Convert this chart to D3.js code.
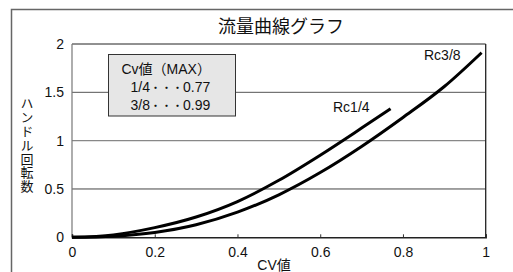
<!DOCTYPE html>
<html><head><meta charset="utf-8">
<script src="https://cdn.jsdelivr.net/npm/d3@7"></script>
<style>
html,body{margin:0;padding:0;background:#fff;}
svg{display:block;}
text{font-family:"Liberation Sans",Arial,"Noto Sans CJK JP",sans-serif;fill:#111;}
</style></head>
<body>
<script>
const title = "流量曲線グラフ";
const xLabel = "CV値";
const yLabel = "ハンドル回転数";
const xTicks = [0, 0.2, 0.4, 0.6, 0.8, 1];
const yTicks = [0, 0.5, 1, 1.5, 2];
const legendTitle = "Cv値（MAX）";
const legendSizes = ["1/4", "3/8"];
const legendMax = ["0.77", "0.99"];
const legendDots = "・・・";
const seriesNames = ["Rc1/4", "Rc3/8"];
const rc14X = [0, 0.1, 0.2, 0.3, 0.4, 0.5, 0.6, 0.7, 0.77];
const rc14Y = [0, 0.025, 0.10, 0.21, 0.37, 0.59, 0.85, 1.13, 1.33];
const rc38X = [0, 0.1, 0.2, 0.3, 0.4, 0.5, 0.6, 0.7, 0.8, 0.9, 0.99];
const rc38Y = [0, 0.012, 0.05, 0.13, 0.26, 0.44, 0.67, 0.94, 1.24, 1.56, 1.91];

const W = 513, H = 272;
const L = 72, R = 485.7, T = 44, B = 237.3;
const svg = d3.select("body").append("svg").attr("width", W).attr("height", H);

const x = d3.scaleLinear().domain([0, 1]).range([L, R]);
const y = d3.scaleLinear().domain([0, 2]).range([B, T]);

// outer frame
svg.append("path").attr("d", `M11.5,${H} V9.5 H${W}`).attr("fill", "none")
  .attr("stroke", "#666").attr("stroke-width", 1.5);

// title
svg.append("text").attr("x", 281).attr("y", 32.5).attr("text-anchor", "middle")
  .attr("font-size", 18).style("font-family", "'Noto Sans CJK JP',sans-serif").text(title);

// gridlines
const gridColor = {0.5: "#444", 1: "#888", 1.5: "#555"};
svg.append("g").selectAll("line").data(yTicks.filter(d => d > 0 && d < 2)).join("line")
  .attr("x1", L).attr("x2", R).attr("y1", d => y(d)).attr("y2", d => y(d))
  .attr("stroke", d => gridColor[d]).attr("stroke-width", d => d === 1 ? 1.4 : 1);

// plot frame
svg.append("line").attr("x1", L).attr("x2", R).attr("y1", T).attr("y2", T).attr("stroke", "#222").attr("stroke-width", 1);
svg.append("line").attr("x1", R).attr("x2", R).attr("y1", T).attr("y2", B).attr("stroke", "#222").attr("stroke-width", 1.3);
svg.append("line").attr("x1", L).attr("x2", L).attr("y1", T).attr("y2", B).attr("stroke", "#777").attr("stroke-width", 1.2);

// x axis (ticks inward)
const xAxis = d3.axisBottom(x).tickValues(xTicks).tickSize(-3).tickPadding(10)
  .tickFormat(d => d3.format("")(d));
const gx = svg.append("g").attr("transform", `translate(0,${B})`).call(xAxis);
gx.select(".domain").attr("stroke", "#222").attr("stroke-width", 1.5);
gx.selectAll(".tick line").attr("stroke", "#333");
gx.selectAll(".tick text").attr("font-size", 14).attr("fill", "#111")
  .style("font-family", "'Liberation Sans',Arial,sans-serif");

// y axis labels
const yAxis = d3.axisLeft(y).tickValues(yTicks).tickSize(0).tickPadding(8)
  .tickFormat(d => d3.format("")(d));
const gy = svg.append("g").attr("transform", `translate(${L},0)`).call(yAxis);
gy.select(".domain").remove();
gy.selectAll(".tick text").attr("font-size", 14).attr("fill", "#111")
  .style("font-family", "'Liberation Sans',Arial,sans-serif");

// axis titles
svg.append("text").attr("x", 274).attr("y", 270).attr("text-anchor", "middle")
  .attr("font-size", 14).text(xLabel);
svg.append("text").attr("x", 27).attr("y", 97)
  .attr("font-size", 13).attr("letter-spacing", 0.8)
  .style("font-family", "'Noto Sans CJK JP',sans-serif")
  .style("writing-mode", "vertical-rl").style("text-orientation", "upright")
  .text(yLabel);

// curves
const line = d3.line().x(d => x(d[0])).y(d => y(d[1])).curve(d3.curveMonotoneX);
const s14 = rc14X.map((v, i) => [v, rc14Y[i]]);
const s38 = rc38X.map((v, i) => [v, rc38Y[i]]);
[s14, s38].forEach(s => {
  svg.append("path").attr("d", line(s)).attr("fill", "none").attr("stroke", "#000")
    .attr("stroke-width", 3).attr("stroke-linecap", "butt");
});

// series labels
svg.append("text").attr("x", 333).attr("y", 111.5).attr("font-size", 14).text(seriesNames[0]);
svg.append("text").attr("x", 424).attr("y", 60).attr("font-size", 14).text(seriesNames[1]);

// legend box
svg.append("rect").attr("x", 108.5).attr("y", 54.5).attr("width", 127).attr("height", 61.5)
  .attr("fill", "#e6e6e6").attr("stroke", "#333").attr("stroke-width", 1);
svg.append("text").attr("x", 121.5).attr("y", 74).attr("font-size", 14).text(legendTitle);
legendSizes.forEach((s, i) => {
  const t = svg.append("text").attr("x", 130.5).attr("y", 92 + i * 17.6).attr("font-size", 14);
  t.append("tspan").text(s);
  t.append("tspan").attr("font-size", 11).style("font-family", "'Noto Sans CJK JP',sans-serif").text(legendDots);
  t.append("tspan").text(legendMax[i]);
});
</script>
</body></html>
